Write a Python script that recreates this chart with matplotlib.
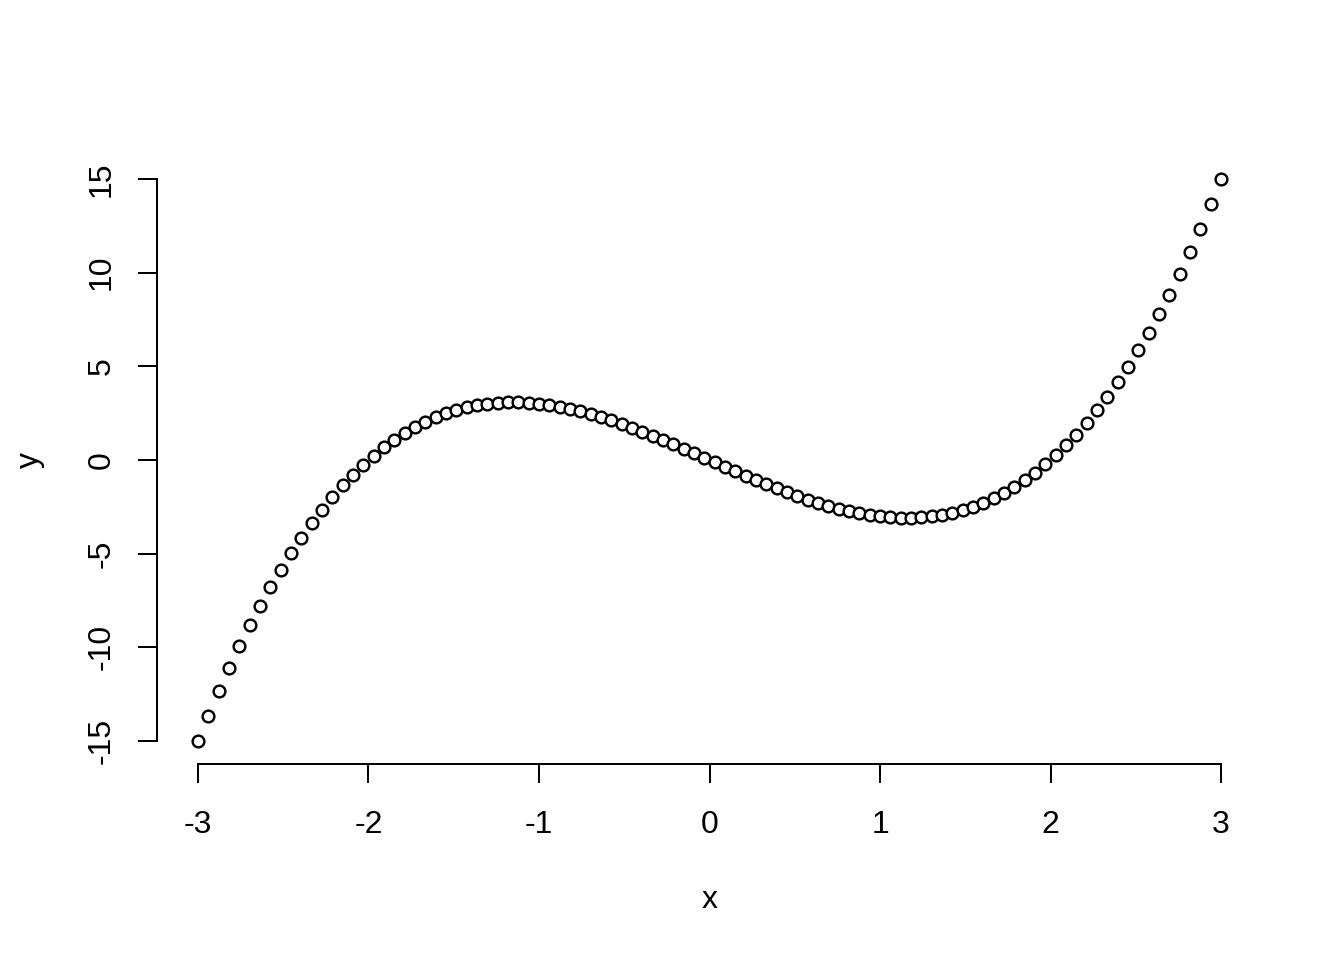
import matplotlib
matplotlib.use("Agg")
import matplotlib.pyplot as plt

# points (cubic-looking curve, 100 points)
x = [-3.000, -2.939, -2.879, -2.818, -2.758, -2.697, -2.636, -2.576, -2.515, -2.455,
     -2.394, -2.333, -2.273, -2.212, -2.152, -2.091, -2.030, -1.970, -1.909, -1.848,
     -1.788, -1.727, -1.667, -1.606, -1.545, -1.485, -1.424, -1.364, -1.303, -1.242,
     -1.182, -1.121, -1.061, -1.000, -0.939, -0.879, -0.818, -0.758, -0.697, -0.636,
     -0.576, -0.515, -0.455, -0.394, -0.333, -0.273, -0.212, -0.152, -0.091, -0.030,
     0.030, 0.091, 0.152, 0.212, 0.273, 0.333, 0.394, 0.455, 0.515, 0.576,
     0.636, 0.697, 0.758, 0.818, 0.879, 0.939, 1.000, 1.061, 1.121, 1.182,
     1.242, 1.303, 1.364, 1.424, 1.485, 1.545, 1.606, 1.667, 1.727, 1.788,
     1.848, 1.909, 1.970, 2.030, 2.091, 2.152, 2.212, 2.273, 2.333, 2.394,
     2.455, 2.515, 2.576, 2.636, 2.697, 2.758, 2.818, 2.879, 2.939, 3.000]

y = [-15.000, -13.639, -12.343, -11.110, -9.939, -8.829, -7.778, -6.786, -5.850, -4.970,
     -4.144, -3.370, -2.648, -1.976, -1.353, -0.778, -0.248, 0.237, 0.678, 1.078,
     1.437, 1.756, 2.037, 2.282, 2.491, 2.666, 2.808, 2.919, 3.000, 3.052,
     3.077, 3.075, 3.049, 3.000, 2.929, 2.836, 2.725, 2.596, 2.449, 2.288,
     2.112, 1.924, 1.724, 1.515, 1.296, 1.071, 0.839, 0.603, 0.363, 0.121,
     -0.121, -0.363, -0.603, -0.839, -1.071, -1.296, -1.515, -1.724, -1.924, -2.112,
     -2.288, -2.449, -2.596, -2.725, -2.836, -2.929, -3.000, -3.049, -3.075, -3.077,
     -3.052, -3.000, -2.919, -2.808, -2.666, -2.491, -2.282, -2.037, -1.756, -1.437,
     -1.078, -0.678, -0.237, 0.248, 0.778, 1.353, 1.976, 2.648, 3.370, 4.144,
     4.970, 5.850, 6.786, 7.778, 8.829, 9.939, 11.110, 12.343, 13.639, 15.000]

xticks = [-3, -2, -1, 0, 1, 2, 3]
yticks = [-15, -10, -5, 0, 5, 10, 15]

plt.rcParams['font.family'] = ['Liberation Sans', 'DejaVu Sans']
plt.rcParams['font.size'] = 12
plt.rcParams['axes.unicode_minus'] = False

fig = plt.figure(figsize=(7, 5), dpi=192)
ax = fig.add_axes([157 / 1344, 1 - 763.5 / 960, 1105 / 1344, 607 / 960])

ax.plot(x, y, linestyle='none', marker='o', markersize=4.4,
        markerfacecolor='white', markeredgecolor='black', markeredgewidth=0.9)

# R-style limits: 4% padding on each side
xr = max(x) - min(x)
yr = max(y) - min(y)
ax.set_xlim(min(x) - 0.04 * xr, max(x) + 0.04 * xr)
ax.set_ylim(min(y) - 0.04 * yr, max(y) + 0.04 * yr)

ax.set_xticks(xticks)
ax.set_xticklabels([str(t) for t in xticks])
ax.set_yticks(yticks)
ax.set_yticklabels([str(t) for t in yticks], rotation=90, va='center')

for side in ['top', 'right']:
    ax.spines[side].set_visible(False)
ax.spines['bottom'].set_bounds(xticks[0], xticks[-1])
ax.spines['left'].set_bounds(yticks[0], yticks[-1])
for side in ['bottom', 'left']:
    ax.spines[side].set_linewidth(0.75)

ax.tick_params(axis='both', length=7.1, width=0.75, labelsize=12)
ax.tick_params(axis='x', pad=10.5)
ax.tick_params(axis='y', pad=8)

ax.set_xlabel('x', fontsize=12, va='center')
ax.set_ylabel('y', fontsize=12, va='center')
ax.xaxis.set_label_coords(0.5, (763.5 - 900) / 607)
ax.yaxis.set_label_coords((30 - 157) / 1105, 0.5)

fig.savefig('out.png', dpi=192)
